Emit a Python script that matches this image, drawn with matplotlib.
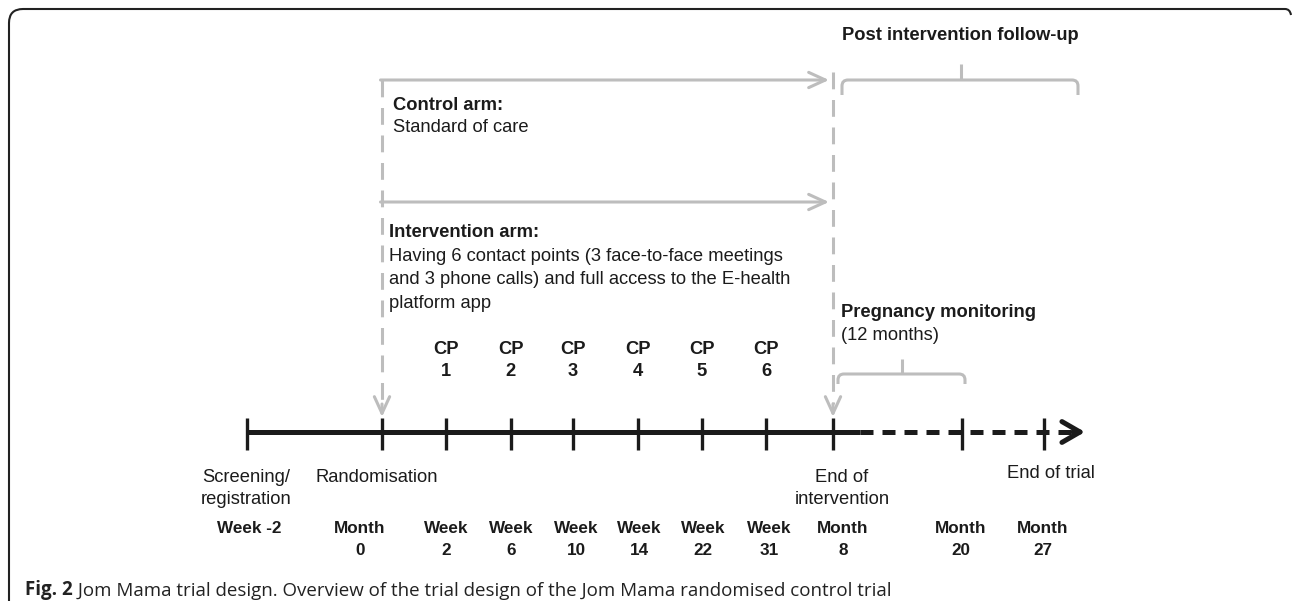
import matplotlib.pyplot as plt
from matplotlib.path import Path
from matplotlib.patches import PathPatch

# --- timeline data (pixel positions along the axis) ---
tick_x = [247, 382, 446, 511, 573, 638, 702, 766, 833, 962, 1044]
solid_end = 860
arrow_tip = 1085
timeline_y = 432

time_label_x = [249, 360, 446, 511, 576, 639, 703, 769, 843, 961, 1043]
time_labels = ["Week -2", "Month\n0", "Week\n2", "Week\n6", "Week\n10", "Week\n14",
               "Week\n22", "Week\n31", "Month\n8", "Month\n20", "Month\n27"]

event_x = [246, 377, 842, 1051]
event_labels = ["Screening/\nregistration", "Randomisation", "End of\nintervention", "End of trial"]
event_base = [482, 482, 482, 478]

cp_x = tick_x[2:8]
cp_labels = ["CP\n%d" % i for i in range(1, 7)]

arm_x = [382, 833]
arm_y = [80, 202]

GRAY = '#bdbdbd'
BLACK = '#1b1b1b'
FS = 13.2
FS_WEEK = 12.3
LINE = 22

plt.rcParams['font.family'] = ['Liberation Sans', 'DejaVu Sans']

fig = plt.figure(figsize=(12.92, 6.01), dpi=100)
ax = fig.add_axes([0, 0, 1, 1])
ax.set_xlim(0, 1292)
ax.set_ylim(601, 0)
ax.axis('off')


def lines_text(x, y0, s, **kw):
    for i, part in enumerate(s.split('\n')):
        ax.text(x, y0 + i * LINE, part, va='baseline', **kw)


def bracket(x0, x1, xm, y, drop, peak, r=6):
    verts = [(x0, y + drop), (x0, y + r), (x0, y), (x0 + r, y), (x1 - r, y), (x1, y), (x1, y + r), (x1, y + drop)]
    codes = [Path.MOVETO, Path.LINETO, Path.CURVE3, Path.CURVE3, Path.LINETO, Path.CURVE3, Path.CURVE3, Path.LINETO]
    ax.add_patch(PathPatch(Path(verts, codes), fill=False, ec=GRAY, lw=2.2, capstyle='butt'))
    ax.plot([xm, xm], [y, y - peak], color=GRAY, lw=2.2, solid_capstyle='butt')


# --- outer panel border ---
bverts = [(9, 601), (9, 23), (9, 9), (23, 9), (1285, 9), (1290, 9), (1291, 15)]
bcodes = [Path.MOVETO, Path.LINETO, Path.CURVE3, Path.CURVE3, Path.LINETO, Path.CURVE3, Path.CURVE3]
ax.add_patch(PathPatch(Path(bverts, bcodes), fill=False, ec='#222222', lw=1.5))

# --- gray arms ---
hs = 'head_length=1.2,head_width=0.55'
for y in arm_y:
    ax.annotate('', xy=(arm_x[1] - 4, y), xytext=(arm_x[0] - 1.5, y),
                arrowprops=dict(arrowstyle='->,' + hs, color=GRAY, lw=2.2,
                                shrinkA=0, shrinkB=0, mutation_scale=10))
for x in arm_x:
    ax.plot([x, x], [arm_y[0] if x == arm_x[0] else arm_y[0] - 8, 404], color=GRAY, lw=2.2,
            linestyle=(0, (5.5, 3.5)))
    ax.annotate('', xy=(x, 417), xytext=(x, 404),
                arrowprops=dict(arrowstyle='->,' + hs, color=GRAY, lw=2.2,
                                shrinkA=0, shrinkB=0, mutation_scale=10))

# --- brackets ---
bracket(842, 1078, 961, 80, 15, 16)
bracket(838, 965, 902, 374, 10, 15)

# --- timeline ---
ax.plot([tick_x[0], solid_end], [timeline_y, timeline_y], color=BLACK, lw=3.6, solid_capstyle='butt')
ax.plot([solid_end, arrow_tip - 6], [timeline_y, timeline_y], color=BLACK, lw=3.6,
        linestyle=(0, (2.6, 1.8)))
ax.annotate('', xy=(arrow_tip, timeline_y), xytext=(arrow_tip - 12, timeline_y),
            arrowprops=dict(arrowstyle='->,head_length=1.3,head_width=0.75', color=BLACK, lw=3.6,
                            shrinkA=0, shrinkB=0, mutation_scale=10))
for x in tick_x:
    ax.plot([x, x], [418, 450], color=BLACK, lw=2.4, solid_capstyle='butt')

# --- texts ---
ax.text(393, 110, "Control arm:", fontsize=FS, fontweight='bold', va='baseline', color=BLACK)
ax.text(393, 132, "Standard of care", fontsize=FS, va='baseline', color=BLACK)
ax.text(389, 237, "Intervention arm:", fontsize=FS, fontweight='bold', va='baseline', color=BLACK)
for i, s in enumerate(["Having 6 contact points (3 face-to-face meetings",
                       "and 3 phone calls) and full access to the E-health",
                       "platform app"]):
    ax.text(389, 261 + i * 23.5, s, fontsize=FS, va='baseline', color=BLACK)

ax.text(842, 40, "Post intervention follow-up", fontsize=FS, fontweight='bold', va='baseline', color=BLACK)
ax.text(841, 317, "Pregnancy monitoring", fontsize=FS, fontweight='bold', va='baseline', color=BLACK)
ax.text(841, 340, "(12 months)", fontsize=FS, va='baseline', color=BLACK)

for x, s in zip(cp_x, cp_labels):
    lines_text(x, 354, s, ha='center', fontsize=FS, fontweight='bold', color=BLACK)

for x, s, b in zip(event_x, event_labels, event_base):
    lines_text(x, b, s, ha='center', fontsize=FS, color=BLACK)

for x, s in zip(time_label_x, time_labels):
    lines_text(x, 533, s, ha='center', fontsize=FS_WEEK, fontweight='bold', color=BLACK)

# --- caption ---
fig_t = ax.text(25, 595, "Fig. 2", fontsize=13.5, fontweight='bold', va='baseline',
                family=['Open Sans', 'DejaVu Sans'], color='#222222')
ax.annotate(" Jom Mama trial design. Overview of the trial design of the Jom Mama randomised control trial",
            xy=(1, 0), xycoords=fig_t, va='bottom', ha='left', fontsize=13.5,
            family=['Open Sans', 'DejaVu Sans'], color='#222222')

fig.savefig('out.png', dpi=100)
